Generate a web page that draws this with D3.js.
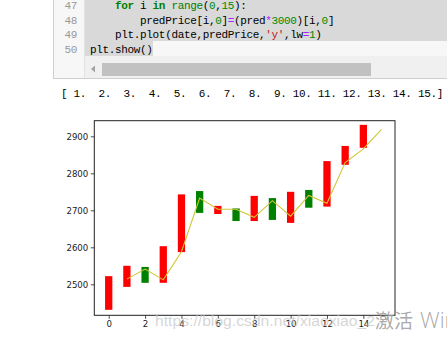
<!DOCTYPE html>
<html><head><meta charset="utf-8">
<script src="https://cdn.jsdelivr.net/npm/d3@7"></script>
<style>html,body{margin:0;padding:0;background:#fff;overflow:hidden}</style>
</head><body>
<script>
// ---- chart data ----
const days = [0,1,2,3,4,5,6,7,8,9,10,11,12,13,14];
const opens  = [2431, 2493, 2547, 2504, 2587, 2752, 2690, 2705, 2671, 2733, 2666, 2755, 2710, 2823, 2869];
const closes = [2522, 2550, 2504, 2603, 2743, 2693, 2712, 2671, 2739, 2674, 2750, 2707, 2833, 2874, 2931];
const dates = [1,2,3,4,5,6,7,8,9,10,11,12,13,14,15];
const predPrice = [2514, 2541, 2512, 2588, 2733, 2703, 2703, 2681, 2726, 2684, 2740, 2719, 2829, 2866, 2919];
const xTicks = [0,2,4,6,8,10,12,14];
const yTicks = [2500,2600,2700,2800,2900];

// ---- notebook text ----
const lineNums = ["47","48","49","50"];
const codeLines = [
  [["    ",""],["for","kw"],[" i ",""],["in","kw"],[" ",""],["range","bi"],["(",""],["0","num"],[",",""],["15","num"],["):",""]],
  [["        predPrice[i,",""],["0","num"],["]",""],["=","op"],["(pred",""],["*","op"],["3000","num"],[")[i,",""],["0","num"],["]",""]],
  [["    plt.plot(date,predPrice,",""],["'y'","str"],[",lw",""],["=","op"],["1","num"],[")",""]],
  [["plt.show()",""]]
];
const outputText = "[ 1.  2.  3.  4.  5.  6.  7.  8.  9. 10. 11. 12. 13. 14. 15.]";

const W = 447, H = 338;
const svg = d3.select("body").append("svg").attr("width", W).attr("height", H)
  .style("display","block");
svg.append("rect").attr("width",W).attr("height",H).attr("fill","#fff");

// ---- code cell ----
const cw = 6.26, lh = 14.7;
const mono = "'Liberation Mono', 'DejaVu Sans Mono', monospace";
svg.append("rect").attr("x",53).attr("y",0).attr("width",W-53).attr("height",78).attr("fill","#f7f7f7");
svg.append("rect").attr("x",85).attr("y",0).attr("width",W-85).attr("height",41).attr("fill","#d9d9d9");
svg.append("rect").attr("x",85).attr("y",41).attr("width",68).attr("height",15).attr("fill","#d9d9d9");
svg.append("rect").attr("x",85).attr("y",56).attr("width",W-85).attr("height",22).attr("fill","#f0f0f0");
svg.append("rect").attr("x",102).attr("y",63).attr("width",269).attr("height",13).attr("fill","#c1c1c1");
svg.append("path").attr("d","M91,69 L95,65.5 L95,72.5 Z").attr("fill","#a3a3a3");
svg.append("line").attr("x1",84.5).attr("x2",84.5).attr("y1",0).attr("y2",78).attr("stroke","#e2e2e2");
svg.append("line").attr("x1",53.5).attr("x2",53.5).attr("y1",0).attr("y2",78.5).attr("stroke","#cfcfcf");
svg.append("line").attr("x1",53).attr("x2",W).attr("y1",78.5).attr("y2",78.5).attr("stroke","#cfcfcf");

const colors = {"":"#000", kw:"#008000", bi:"#008000", num:"#008800", op:"#AA22FF", str:"#BA2121"};
lineNums.forEach((n,i)=>{
  svg.append("text").attr("x",77).attr("y",8.8+i*lh).attr("text-anchor","end")
    .attr("font-family",mono).attr("font-size",11).attr("letter-spacing",-0.34)
    .attr("fill","#999").text(n);
});
codeLines.forEach((toks,i)=>{
  const t = svg.append("text").attr("y",8.8+i*lh).attr("font-family",mono)
    .attr("font-size",11).attr("letter-spacing",-0.34).attr("xml:space","preserve");
  let col = 0;
  toks.forEach(([s,c])=>{
    t.append("tspan").attr("x",90+col*cw).attr("fill",colors[c])
      .attr("font-weight",c==="kw"?"bold":"normal").text(s);
    col += s.length;
  });
});
svg.append("text").attr("x",61).attr("y",96.5).attr("font-family",mono)
  .attr("font-size",11).attr("letter-spacing",-0.34).attr("xml:space","preserve")
  .attr("fill","#000").text(outputText);

// ---- chart ----
const x = d3.scaleLinear().domain([-0.792, 15.74]).range([94.3, 395]);
const y = d3.scaleLinear().domain([2416.2, 2942.2]).range([315.3, 120.7]);
const bw = x(0.4) - x(0);

svg.append("g").selectAll("rect").data(days).join("rect")
  .attr("x", d => x(d) - bw/2)
  .attr("width", bw)
  .attr("y", d => y(Math.max(opens[d], closes[d])))
  .attr("height", d => Math.abs(y(opens[d]) - y(closes[d])))
  .attr("fill", d => closes[d] > opens[d] ? "#ff0000" : "#008000");

svg.append("path").datum(dates)
  .attr("d", d3.line().x(d => x(d)).y((d,i) => y(predPrice[i])))
  .attr("fill","none").attr("stroke","#cfc736").attr("stroke-width",1.1);

const tickFont = "'DejaVu Sans', sans-serif";
const xAxis = svg.append("g").attr("transform","translate(0,315.3)")
  .call(d3.axisBottom(x).tickValues(xTicks).tickSize(3.5).tickPadding(2.5).tickFormat(d3.format("d")));
const yAxis = svg.append("g").attr("transform","translate(94.3,0)")
  .call(d3.axisLeft(y).tickValues(yTicks).tickSize(3.5).tickPadding(2.5).tickFormat(d3.format("d")));
[xAxis,yAxis].forEach(a=>{
  a.select(".domain").remove();
  a.selectAll("text").attr("font-family",tickFont).attr("font-size",8.6).attr("fill","#222");
  a.selectAll("line").attr("stroke","#222").attr("stroke-width",0.8);
});
svg.append("rect").attr("x",94.3).attr("y",120.7).attr("width",395-94.3).attr("height",315.3-120.7)
  .attr("fill","none").attr("stroke","#222").attr("stroke-width",1);

// ---- watermarks ----
svg.append("text").attr("x",155).attr("y",325.5).attr("font-family","'Liberation Sans', Arial, sans-serif")
  .attr("font-size",15.5).attr("textLength",220).attr("lengthAdjust","spacingAndGlyphs")
  .attr("fill","#c8c8c8").attr("fill-opacity",0.75).text("https://blog.csdn.net/xiaoxiao_2");
svg.append("text").attr("x",375).attr("y",328).attr("font-family","'Noto Sans CJK SC', sans-serif")
  .attr("font-size",19).attr("fill","#a0a0a0").attr("fill-opacity",0.9).text("激活");
svg.append("text").attr("x",420).attr("y",328).attr("font-family","'Open Sans', 'Noto Sans', sans-serif")
  .attr("font-size",22).attr("font-weight",300).attr("fill","#a0a0a0").attr("fill-opacity",0.9).text("Windows");
</script>
</body></html>
